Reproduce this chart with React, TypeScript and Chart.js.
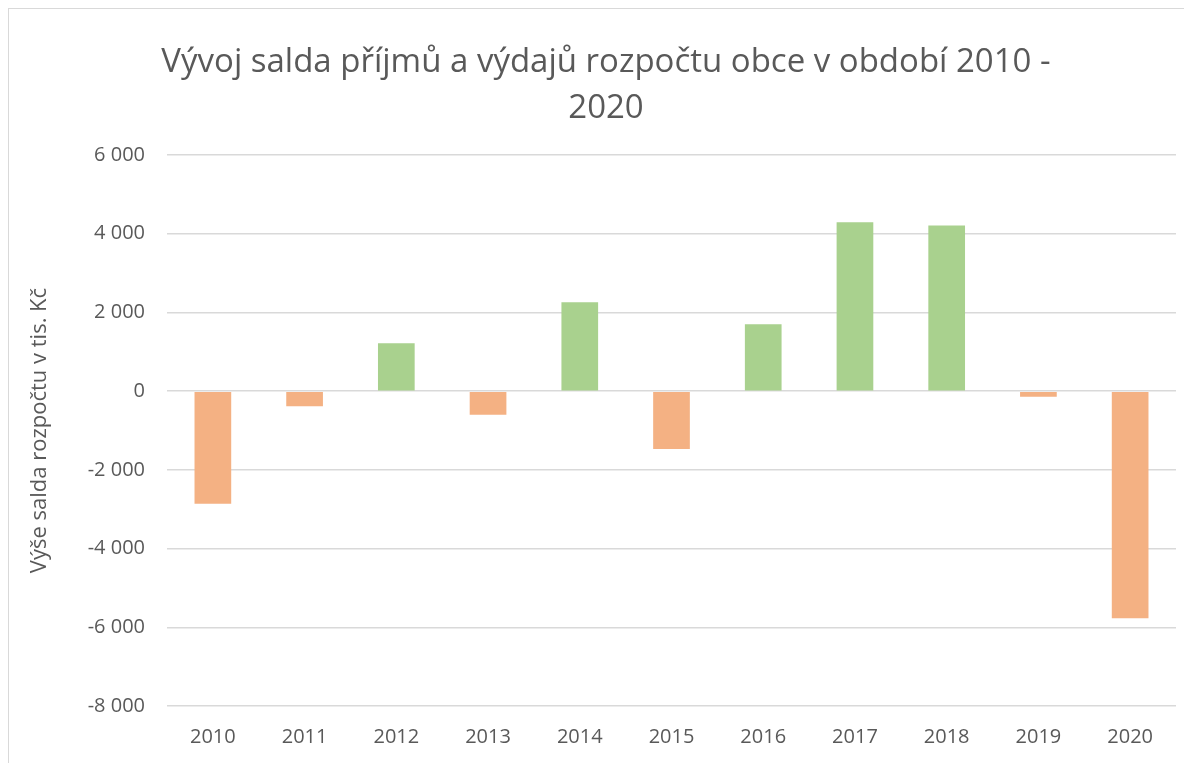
import React, { useEffect, useRef } from "react";
import { Chart, registerables } from "chart.js";

Chart.register(...registerables);

const years = ["2010", "2011", "2012", "2013", "2014", "2015", "2016", "2017", "2018", "2019", "2020"];
const saldo = [-2860, -385, 1220, -600, 2260, -1470, 1700, 4290, 4210, -145, -5770];
const titleLines = ["Vývoj salda příjmů a výdajů rozpočtu obce v období 2010 -", "2020"];
const yAxisTitle = "Výše salda rozpočtu v tis. Kč";
const positiveColor = "#A9D18E";
const negativeColor = "#F4B183";
const textColor = "#595959";
const gridColor = "#d9d9d9";
const FONT = "'Open Sans', sans-serif";

function fmt(v: number): string {
  const s = Math.abs(v).toString().replace(/\B(?=(\d{3})+(?!\d))/g, " ");
  return (v < 0 ? "-" : "") + s;
}

export default function App() {
  const ref = useRef<HTMLCanvasElement | null>(null);
  useEffect(() => {
    if (!ref.current) return;
    const chart = new Chart(ref.current, {
      type: "bar",
      data: {
        labels: years,
        datasets: [
          {
            data: saldo,
            backgroundColor: saldo.map((v) => (v >= 0 ? positiveColor : negativeColor)),
            borderWidth: 0,
            categoryPercentage: 1,
            barPercentage: 0.4,
          },
        ],
      },
      options: {
        animation: false,
        responsive: true,
        maintainAspectRatio: false,
        layout: { padding: { left: 27, right: 16, top: 0, bottom: 0 } },
        plugins: {
          legend: { display: false },
          tooltip: { enabled: false },
          title: {
            display: true,
            text: titleLines,
            color: textColor,
            font: { family: FONT, size: 33, weight: "normal", lineHeight: 1.4 },
            padding: { top: 30, bottom: 23.6 },
          },
        },
        scales: {
          x: {
            afterFit: (scale: any) => {
              scale.height = 57;
            },
            grid: { display: false, drawTicks: false },
            border: { display: false },
            ticks: {
              color: textColor,
              font: { family: FONT, size: 20 },
              padding: 19,
              maxRotation: 0,
            },
          },
          y: {
            min: -8000,
            max: 6000,
            afterFit: (scale: any) => {
              scale.width = 131;
            },
            grid: { color: gridColor, lineWidth: 1.5, drawTicks: false },
            border: { display: false },
            ticks: {
              stepSize: 2000,
              color: textColor,
              font: { family: FONT, size: 20 },
              padding: 22,
              callback: (v: any) => fmt(Number(v)),
            },
            title: {
              display: true,
              text: yAxisTitle,
              color: textColor,
              font: { family: FONT, size: 22 },
              padding: { top: -9, bottom: 0 },
            },
          },
        },
      },
    });
    return () => chart.destroy();
  }, []);
  return (
    <div
      style={{
        width: 1184,
        height: 755,
        boxSizing: "border-box",
        borderTop: "1px solid #d9d9d9",
        borderLeft: "1px solid #d9d9d9",
        background: "#fff",
      }}
    >
      <div style={{ position: "relative", width: "100%", height: "100%" }}>
        <canvas ref={ref} />
      </div>
    </div>
  );
}
